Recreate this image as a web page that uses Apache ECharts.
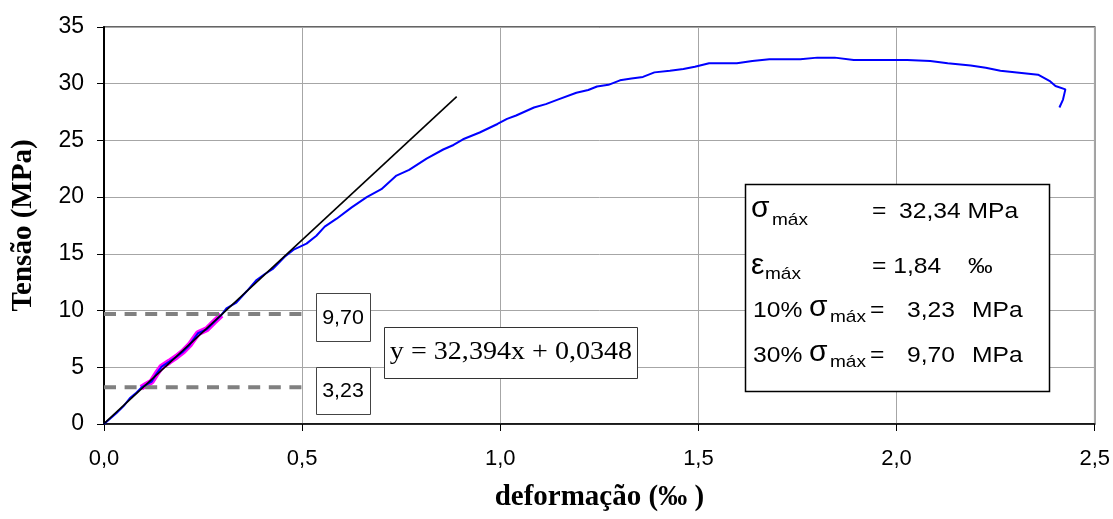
<!DOCTYPE html>
<html>
<head>
<meta charset="utf-8">
<script src="https://cdn.jsdelivr.net/npm/echarts@6/dist/echarts.min.js"></script>
<style>
  html, body { margin: 0; padding: 0; background: #fff; }
  #chart { width: 1113px; height: 519px; }
</style>
</head>
<body>
<div id="chart"></div>
<script>
  // curva tensão x deformação
  const strain = [0.000, 0.031, 0.050, 0.065, 0.080, 0.094, 0.108, 0.120, 0.132, 0.145, 0.165, 0.183,
    0.200, 0.216, 0.237, 0.259, 0.278, 0.296, 0.309, 0.334, 0.360, 0.385, 0.405, 0.427, 0.456, 0.480,
    0.511, 0.536, 0.557, 0.587, 0.625, 0.663, 0.700, 0.738, 0.770, 0.814, 0.856, 0.882, 0.906, 0.948,
    0.993, 1.017, 1.040, 1.085, 1.115, 1.145, 1.192, 1.222, 1.244, 1.273, 1.302, 1.331, 1.360, 1.389,
    1.428, 1.462, 1.491, 1.527, 1.597, 1.636, 1.679, 1.757, 1.800, 1.844, 1.892, 1.945, 2.027, 2.085,
    2.129, 2.187, 2.225, 2.262, 2.357, 2.388, 2.401, 2.426, 2.420, 2.411]
  const stress = [0.00, 0.94, 1.60, 2.27, 2.70, 3.20, 3.50, 3.73, 4.40, 5.05, 5.50, 5.93,
    6.40, 6.97, 8.00, 8.35, 9.00, 9.60, 10.2, 10.7, 11.7, 12.7, 13.2, 13.7, 14.75, 15.4,
    15.9, 16.6, 17.4, 18.1, 19.1, 20.0, 20.7, 21.9, 22.4, 23.4, 24.2, 24.6, 25.1, 25.7,
    26.45, 26.9, 27.2, 27.9, 28.2, 28.6, 29.2, 29.45, 29.75, 29.9, 30.3, 30.45, 30.6, 31.0,
    31.15, 31.3, 31.5, 31.8, 31.8, 32.0, 32.15, 32.15, 32.3, 32.3, 32.1, 32.1, 32.1, 32.0,
    31.8, 31.6, 31.4, 31.15, 30.8, 30.2, 29.8, 29.5, 28.6, 27.9]

  // linha de tendência y = 32,394x + 0,0348
  const trendX = [0, 0.89]
  const trendY = [0.0348, 28.865]

  // 10% e 30% de sigma max
  const refLevels = [3.23, 9.70]
  const refLabels = ['3,23', '9,70']
  const refEndX = 0.5

  const xTicks = [0, 0.5, 1.0, 1.5, 2.0, 2.5]
  const yTicks = [0, 5, 10, 15, 20, 25, 30, 35]

  const curve = strain.map((x, i) => [x, stress[i]])
  const faixa = curve.filter(p => p[1] >= refLevels[0] - 0.1 && p[1] <= refLevels[1])
  const trend = trendX.map((x, i) => [x, trendY[i]])

  const chart = echarts.init(document.getElementById('chart'))

  const sans = 'Liberation Sans, Arial, sans-serif'
  const serif = 'Liberation Serif, Times New Roman, serif'

  // texto posicionado pela linha de base, esticado na horizontal como no original
  function txt(x, base, text, size, sx, family, align) {
    return {
      type: 'text', x: x, y: base - 0.36 * size, z: 100,
      scaleX: sx || 1,
      style: {
        text: text, fontSize: size, fontFamily: family || sans, fill: '#000',
        align: align || 'left', verticalAlign: 'middle'
      }
    }
  }
  function box(x, y, w, h, stroke, lw) {
    return {
      type: 'rect', z: 99,
      shape: { x: x, y: y, width: w, height: h },
      style: { fill: '#fff', stroke: stroke, lineWidth: lw }
    }
  }

  const S = 1.12
  const graphics = [
    // caixas 9,70 e 3,23
    box(316.5, 293.5, 54, 48, '#444', 1),
    txt(343, 325.5, refLabels[1], 21, 1.02, sans, 'center'),
    box(316.5, 367.5, 54, 47, '#444', 1),
    txt(343, 398.5, refLabels[0], 21, 1.02, sans, 'center'),
    // equação
    box(384.5, 327.5, 253, 51, '#333', 1),
    txt(511, 361.5, 'y = 32,394x + 0,0348', 26, 1.08, serif, 'center'),
    // quadro de resultados
    box(745.5, 184.5, 304, 207, '#000', 1.5),
    txt(751, 220, 'σ', 30),
    txt(772, 226, 'máx', 17, S),
    txt(872, 220, '=', 22, S),
    txt(899, 220, '32,34 MPa', 22, S),
    txt(751, 276.5, 'ε', 30),
    txt(765, 280, 'máx', 17, S),
    txt(872, 275, '= 1,84', 22, S),
    txt(968, 275, '‰', 22, S),
    txt(753, 318.5, '10%', 22, S),
    txt(809, 318.5, 'σ', 30),
    txt(830, 323.5, 'máx', 17, S),
    txt(870, 318.5, '=', 22, S),
    txt(907, 318.5, '3,23', 22, S),
    txt(972, 318.5, 'MPa', 22, S),
    txt(753, 363.5, '30%', 22, S),
    txt(809, 363.5, 'σ', 30),
    txt(830, 368, 'máx', 17, S),
    txt(870, 363.5, '=', 22, S),
    txt(907, 363.5, '9,70', 22, S),
    txt(972, 363.5, 'MPa', 22, S)
  ]

  const series = [{
    name: 'faixa',
    type: 'line',
    data: faixa,
    showSymbol: false,
    lineStyle: { color: '#ff00ff', width: 6 },
    z: 2
  }]
  refLevels.forEach(v => {
    series.push({
      type: 'line',
      data: [[0, v], [refEndX, v]],
      showSymbol: false,
      lineStyle: { color: '#808080', width: 4, type: [12, 8.6] },
      z: 3
    })
  })
  series.push({
    name: 'ensaio',
    type: 'line',
    data: curve,
    showSymbol: false,
    lineStyle: { color: '#0000ff', width: 2 },
    z: 4
  }, {
    name: 'tendência',
    type: 'line',
    data: trend,
    showSymbol: false,
    lineStyle: { color: '#000', width: 1.6 },
    z: 5
  })

  chart.setOption({
    backgroundColor: '#fff',
    animation: false,
    grid: {
      left: 104,
      right: 18,
      top: 27,
      bottom: 95,
      show: true,
      borderColor: '#333',
      borderWidth: 1.5
    },
    xAxis: {
      type: 'value',
      min: xTicks[0],
      max: xTicks[xTicks.length - 1],
      interval: 0.5,
      name: 'deformação (‰ )',
      nameLocation: 'middle',
      nameGap: 59,
      nameTextStyle: { fontFamily: serif, fontWeight: 'bold', fontSize: 29, color: '#000' },
      axisLine: { lineStyle: { color: '#000', width: 1.5 } },
      axisTick: { show: true, length: 7, lineStyle: { color: '#000' } },
      axisLabel: {
        margin: 24,
        fontFamily: sans,
        fontSize: 22,
        color: '#000',
        formatter: v => v.toFixed(1).replace('.', ',')
      },
      splitLine: { show: true, lineStyle: { color: '#a6a6a6', width: 1 } }
    },
    yAxis: {
      type: 'value',
      min: yTicks[0],
      max: yTicks[yTicks.length - 1],
      interval: 5,
      name: 'Tensão (MPa)',
      nameLocation: 'middle',
      nameGap: 66,
      nameTextStyle: { fontFamily: serif, fontWeight: 'bold', fontSize: 29, color: '#000' },
      axisLine: { show: true, lineStyle: { color: '#000', width: 2 } },
      axisTick: { show: true, length: 7, lineStyle: { color: '#000' } },
      axisLabel: { margin: 20, fontFamily: sans, fontSize: 23, color: '#000' },
      splitLine: { show: true, lineStyle: { color: '#a6a6a6', width: 1 } }
    },
    series: series,
    graphic: graphics
  })
</script>
</body>
</html>
